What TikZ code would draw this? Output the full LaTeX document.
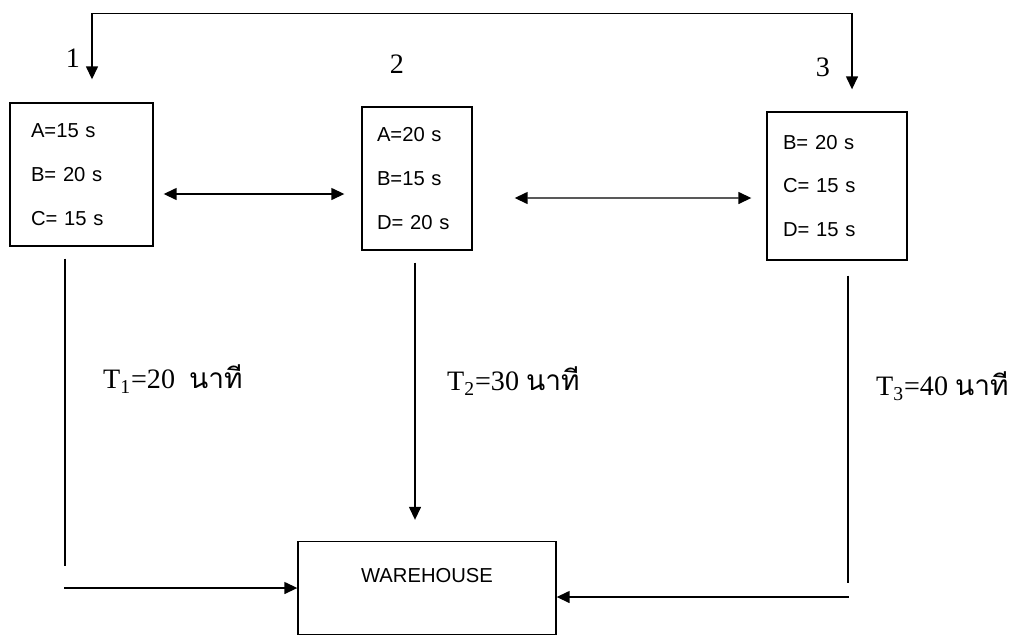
\documentclass[tikz,border=0pt]{standalone}
\usepackage{fontspec}
\setmainfont{Liberation Serif}
\setsansfont{Liberation Sans}
\newfontfamily\thaifont[Script=Thai]{Loma}
\usetikzlibrary{positioning, arrows.meta, calc}

\begin{document}
\begin{tikzpicture}[
    x=0.02cm, y=-0.02cm,
    station/.style={
        rectangle,
        draw,
        line width=0.8pt,
        font=\sffamily\fontsize{11.5}{25}\selectfont,
        align=left
    },
    tag/.style={
        font=\fontsize{16}{19}\selectfont
    },
    plain/.style={
        line width=0.8pt
    },
    flow/.style={
        -{Triangle[length=2.6mm, width=2.4mm]},
        line width=0.8pt
    },
    link/.style={
        {Triangle[length=2.6mm, width=2.4mm]}-{Triangle[length=2.6mm, width=2.4mm]},
        line width=0.8pt
    }
]
    \useasboundingbox (0,0) rectangle (1010,636);

    \node[station, text width=2.02cm, inner xsep=0.42cm, minimum height=2.86cm] (st1) at (81.5,174.5) {A=15 s\\B= 20 s\\C= 15 s};
    \node[station, text width=1.6cm, inner xsep=0.3cm, minimum height=2.86cm] (st2) at (417,178.5) {A=20 s\\B=15 s\\D= 20 s};
    \node[station, text width=2.16cm, inner xsep=0.32cm, minimum height=2.96cm] (st3) at (837,186) {B= 20 s\\C= 15 s\\D= 15 s};
    \node[station, align=center, minimum width=5.16cm, minimum height=1.86cm, text depth=0.5cm] (wh) at (427,588) {WAREHOUSE};

    \node[tag] (n1) at (73,58) {1};
    \node[tag] (n2) at (397,64) {2};
    \node[tag] (n3) at (823,67) {3};

    \node[tag, anchor=west] (t1) at (97,379) {T\textsubscript{1}=20~~{\thaifont นาที}};
    \node[tag, anchor=west] (t2) at (441,381) {T\textsubscript{2}=30~{\thaifont นาที}};
    \node[tag, anchor=west] (t3) at (870,386) {T\textsubscript{3}=40~{\thaifont นาที}};

    % loop between 1 and 3
    \coordinate (in1) at ($(st1.north)+(10.5,-23)$);
    \coordinate (in3) at ($(st3.north)+(15,-22)$);
    \draw[link] (in1) -- ++(0,-66) -| (in3);

    \draw[link] ($(st1.east)+(10,19.5)$) -- ($(st2.west)+(-17,15.5)$);
    \draw[link] ($(st2.east)+(42,19.5)$) -- ($(st3.west)+(-15,12)$);

    % routes to the warehouse
    \coordinate (out1) at ($(st1.south)+(-16.5,12)$);
    \coordinate (end1) at ($(out1)+(0,307)$);
    \coordinate (in1w) at ($(wh.west)+(-233,0)$);
    \draw[plain] (out1) -- (end1);
    \draw[flow] (in1w) -- (wh.west);

    \draw[flow] ($(st2.south)+(-2,12)$) -- ($(wh.north)+(-12,-21)$);

    \coordinate (out3) at ($(st3.south)+(11,15)$);
    \coordinate (end3) at ($(out3)+(0,307)$);
    \coordinate (in3e) at ($(wh.east)+(292,9)$);
    \draw[plain] (out3) -- (end3);
    \draw[flow] (in3e) -- (wh.east |- in3e);

\end{tikzpicture}
\end{document}
